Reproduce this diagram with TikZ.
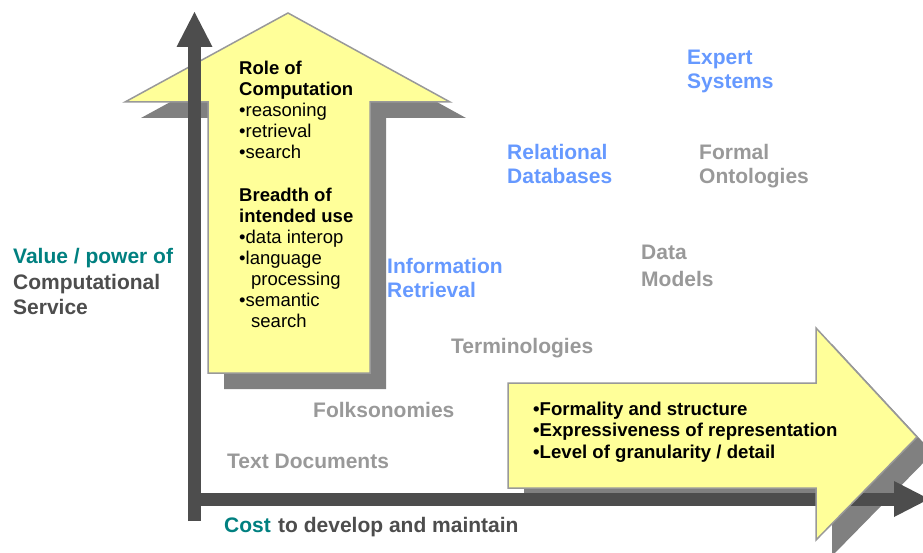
\documentclass[tikz,border=0pt]{standalone}
\usepackage{fontspec}
\setmainfont{Liberation Sans}
\usetikzlibrary{arrows.meta}
\definecolor{lblue}{RGB}{102,153,255}
\definecolor{lgray}{RGB}{153,153,153}
\definecolor{tealc}{RGB}{0,128,128}
\definecolor{dgray}{RGB}{77,77,77}
\definecolor{shadec}{RGB}{128,128,128}
\definecolor{pale}{RGB}{255,255,153}
\newcommand{\myrow}[1]{\hbox{#1}}
\newcommand{\mystack}[2]{\vtop{\baselineskip=#1\relax\lineskiplimit=-100pt\lineskip=0pt #2}}
\begin{document}
\begin{tikzpicture}[x=1pt,y=-1pt,
  lbl/.style={inner sep=0pt, anchor=base west, font=\fontsize{21}{24}\selectfont\bfseries},
  boxtxt/.style={inner sep=0pt, anchor=base west, font=\fontsize{18.5}{21}\selectfont},
  rtxt/.style={inner sep=0pt, anchor=base west, font=\fontsize{18.6}{21.5}\selectfont\bfseries},
  bigarrow/.style={fill=pale, draw=lgray, line width=1.5pt, line join=miter},
  shadow/.style={fill=shadec},
  axis/.style={draw=dgray, line width=13pt, -{Triangle[length=35pt,width=36pt,line width=0pt]}}]
\clip (0,0) rectangle (923,553);
\fill[white] (0,0) rectangle (923,553);
% up arrow
\fill[shadow] (304,29) -- (466,118) -- (386,118) -- (386,389) -- (224,389) -- (224,118) -- (141,118) -- cycle;
\path[bigarrow] (288,13) -- (450,102) -- (370,102) -- (370,373) -- (208,373) -- (208,102) -- (125,102) -- cycle;
% right arrow shadow
\fill[shadow] (524,399) -- (832,399) -- (832,344) -- (933,453) -- (832,556) -- (832,504) -- (524,504) -- cycle;
% axes
\coordinate (origin) at (194.5,521);
\coordinate (ytip) at (194.5,12);
\coordinate (xstart) at (194.5,499);
\coordinate (xtip) at (929,499);
\draw[axis] (origin) -- (ytip);
\draw[axis] (xstart) -- (xtip);
% right arrow
\path[bigarrow] (508,383) -- (816,383) -- (816,328) -- (917,437) -- (816,540) -- (816,488) -- (508,488) -- cycle;
% text in up arrow
\node[boxtxt] (role) at (239,75) {\mystack{20.8pt}{\myrow{\bfseries Role of}\myrow{\bfseries Computation}\myrow{•reasoning}\myrow{•retrieval}\myrow{•search}}};
\node[boxtxt] (breadth) at (239,202) {\mystack{21pt}{\myrow{\bfseries Breadth of}\myrow{\bfseries intended use}\myrow{•data interop}\myrow{•language}\myrow{\hspace*{12pt}processing}\myrow{•semantic}\myrow{\hspace*{12pt}search}}};
% text in right arrow
\node[rtxt] (formality) at (533,415) {\mystack{21.8pt}{\myrow{•Formality and structure}\myrow{•Expressiveness of representation}\myrow{•Level of granularity / detail}}};
% labels
\node[lbl, text=lblue] (expert) at (687,65) {\mystack{24pt}{\myrow{Expert}\myrow{Systems}}};
\node[lbl, text=lblue] (relational) at (507,160) {\mystack{24pt}{\myrow{Relational}\myrow{Databases}}};
\node[lbl, text=lgray] (formal) at (699,160) {\mystack{24pt}{\myrow{Formal}\myrow{Ontologies}}};
\node[lbl, text=lgray] (datamodels) at (641,259) {\mystack{28pt}{\myrow{Data}\myrow{Models}}};
\node[lbl, text=lblue] (inforet) at (387,273) {\mystack{24pt}{\myrow{Information}\myrow{Retrieval}}};
\node[lbl, text=lgray] (termin) at (451,353) {Terminologies};
\node[lbl, text=lgray] (folks) at (313,417) {Folksonomies};
\node[lbl, text=lgray] (textdocs) at (227,468) {Text Documents};
\node[lbl] (value) at (13,264) {\mystack{25.5pt}{\myrow{\color{tealc}Value / power of}\myrow{\color{dgray}Computational}\myrow{\color{dgray}Service}}};
\node[lbl, text=tealc] (cost) at (224,532) {Cost};
\node[lbl, text=dgray] (maint) at (278,532) {to develop and maintain};
\end{tikzpicture}
\end{document}
